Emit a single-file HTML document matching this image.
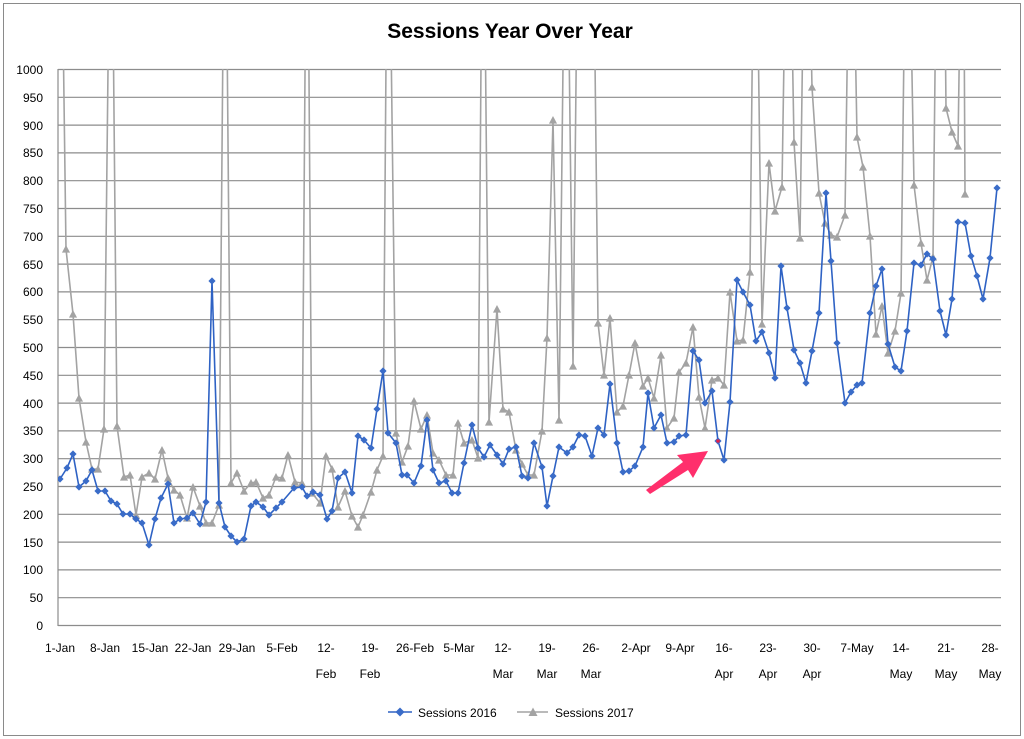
<!DOCTYPE html>
<html><head><meta charset="utf-8"><style>
html,body{margin:0;padding:0;background:#fff;}
svg{display:block;font-family:"Liberation Sans",sans-serif;}
</style></head><body>
<svg width="1024" height="739" viewBox="0 0 1024 739" xmlns="http://www.w3.org/2000/svg">
<defs>
<clipPath id="c"><rect x="58" y="69" width="944" height="557"/></clipPath>
<marker id="d" viewBox="-5 -5 10 10" markerWidth="8" markerHeight="8" markerUnits="userSpaceOnUse" refX="0" refY="0"><path d="M0,-4.5 L4.5,0 L0,4.5 L-4.5,0Z" fill="#3a6cc8"/></marker>
<marker id="t" viewBox="-5 -5 10 10" markerWidth="9" markerHeight="9" markerUnits="userSpaceOnUse" refX="0" refY="0"><path d="M0,-4.5 L4.5,4 L-4.5,4Z" fill="#a3a3a3"/></marker>
</defs>
<rect x="3.5" y="3.5" width="1017" height="732" fill="#fff" stroke="#8a8a8a"/>
<text x="510" y="38" font-size="21" font-weight="bold" text-anchor="middle" fill="#000">Sessions Year Over Year</text>
<g stroke="#8c8c8c" stroke-width="1.2">
<line x1="58" y1="69.5" x2="1001" y2="69.5"/><line x1="58" y1="97.3" x2="1001" y2="97.3"/><line x1="58" y1="125.1" x2="1001" y2="125.1"/><line x1="58" y1="152.9" x2="1001" y2="152.9"/><line x1="58" y1="180.7" x2="1001" y2="180.7"/><line x1="58" y1="208.5" x2="1001" y2="208.5"/><line x1="58" y1="236.3" x2="1001" y2="236.3"/><line x1="58" y1="264.1" x2="1001" y2="264.1"/><line x1="58" y1="291.9" x2="1001" y2="291.9"/><line x1="58" y1="319.7" x2="1001" y2="319.7"/><line x1="58" y1="347.5" x2="1001" y2="347.5"/><line x1="58" y1="375.3" x2="1001" y2="375.3"/><line x1="58" y1="403.1" x2="1001" y2="403.1"/><line x1="58" y1="430.9" x2="1001" y2="430.9"/><line x1="58" y1="458.7" x2="1001" y2="458.7"/><line x1="58" y1="486.5" x2="1001" y2="486.5"/><line x1="58" y1="514.3" x2="1001" y2="514.3"/><line x1="58" y1="542.1" x2="1001" y2="542.1"/><line x1="58" y1="569.9" x2="1001" y2="569.9"/><line x1="58" y1="597.7" x2="1001" y2="597.7"/><line x1="58" y1="625.5" x2="1001" y2="625.5"/>
<line x1="58" y1="69" x2="58" y2="626"/>
</g>
<g font-size="12" text-anchor="end" fill="#000">
<text x="43" y="74">1000</text><text x="43" y="102">950</text><text x="43" y="130">900</text><text x="43" y="157">850</text><text x="43" y="185">800</text><text x="43" y="213">750</text><text x="43" y="241">700</text><text x="43" y="269">650</text><text x="43" y="296">600</text><text x="43" y="324">550</text><text x="43" y="352">500</text><text x="43" y="380">450</text><text x="43" y="408">400</text><text x="43" y="435">350</text><text x="43" y="463">300</text><text x="43" y="491">250</text><text x="43" y="519">200</text><text x="43" y="547">150</text><text x="43" y="574">100</text><text x="43" y="602">50</text><text x="43" y="630">0</text>
</g>
<g font-size="12" text-anchor="middle" fill="#000">
<text x="60" y="652">1-Jan</text><text x="105" y="652">8-Jan</text><text x="150" y="652">15-Jan</text><text x="193" y="652">22-Jan</text><text x="237" y="652">29-Jan</text><text x="282" y="652">5-Feb</text>
<text x="326" y="652">12-</text><text x="326" y="678">Feb</text><text x="370" y="652">19-</text><text x="370" y="678">Feb</text>
<text x="415" y="652">26-Feb</text><text x="459" y="652">5-Mar</text>
<text x="503" y="652">12-</text><text x="503" y="678">Mar</text><text x="547" y="652">19-</text><text x="547" y="678">Mar</text><text x="591" y="652">26-</text><text x="591" y="678">Mar</text>
<text x="636" y="652">2-Apr</text><text x="680" y="652">9-Apr</text>
<text x="724" y="652">16-</text><text x="724" y="678">Apr</text><text x="768" y="652">23-</text><text x="768" y="678">Apr</text><text x="812" y="652">30-</text><text x="812" y="678">Apr</text>
<text x="857" y="652">7-May</text>
<text x="901" y="652">14-</text><text x="901" y="678">May</text><text x="946" y="652">21-</text><text x="946" y="678">May</text><text x="990" y="652">28-</text><text x="990" y="678">May</text>
</g>
<g clip-path="url(#c)">
<polyline fill="none" stroke="#a3a3a3" stroke-width="1.6" marker-mid="url(#t)" marker-end="url(#t)" points="60,-200 66,249 73,314 79,398 86,442 92,469 98,469 104,429 111,-200 117,426 124,477 130,475 136,515 142,477 149,473 155,479 162,450 168,478 174,490 180,495 187,518 193,487 200,506 206,523 212,523 219,505 225,-200 231,483 237,473 244,491 251,483 256,482 263,498 269,495 276,477 282,478 288,455 295,482 302,483 307,-200 312,493 320,503 326,456 332,469 338,507 345,491 352,516 358,527 363,515 371,492 377,470 383,456 388,-200 396,433 402,462 408,446 414,401 421,429 427,415 433,453 439,460 446,475 453,475 458,423 464,443 472,440 478,458 483,-200 489,422 497,309 503,409 509,412 516,450 522,464 528,475 534,475 542,431 547,338 553,120 559,420 566,-200 573,366 579,-200 585,-200 592,-200 598,323 604,375 610,318 617,412 623,406 629,375 635,343 643,386 648,378 654,398 661,355 667,428 674,418 679,372 686,363 693,327 699,397 705,428 712,380 718,378 724,385 730,292 737,341 743,340 750,272 755,-200 762,324 769,163 775,211 782,187 788,-200 794,142 800,238 806,-200 812,87 819,193 825,223 831,235 837,237 845,215 851,-200 857,137 863,167 870,236 876,334 882,306 888,353 895,331 901,293 907,-200 914,185 921,243 927,280 933,257 938,-200 943,-200 946,108 952,132 958,146 963,-200 965,194"/>
<polyline fill="none" stroke="#2e62c4" stroke-width="1.6" marker-start="url(#d)" marker-mid="url(#d)" marker-end="url(#d)" points="60,479 67,468 73,454 79,487 86,481 92,470 98,491 105,491 111,501 117,504 123,514 130,514 136,519 142,523 149,545 155,519 161,498 168,484 174,523 180,519 187,518 193,513 200,524 206,502 212,281 219,503 225,527 231,536 237,542 244,539 251,506 256,502 263,507 269,515 276,508 282,502 294,488 302,487 307,496 313,492 320,495 327,519 332,511 338,478 345,472 352,493 358,436 364,440 371,448 377,409 383,371 388,433 396,443 402,475 407,475 414,483 421,466 427,420 433,470 439,483 446,481 452,493 458,493 464,463 472,425 478,448 484,457 490,445 497,455 503,464 509,449 516,447 522,476 528,478 534,443 542,467 547,506 553,476 559,447 567,453 573,447 579,435 585,436 592,456 598,428 604,435 610,384 617,443 623,472 629,471 635,466 643,447 648,393 654,428 661,415 667,443 674,442 679,436 686,435 693,351 699,360 705,403 712,391 718,441 724,460 730,402 737,280 743,292 750,305 756,341 762,332 769,353 775,378 781,266 787,308 794,350 800,363 806,383 812,351 819,313 826,193 831,261 837,343 845,403 851,392 857,385 862,383 870,313 876,286 882,269 888,344 895,367 901,371 907,331 914,263 921,265 927,254 933,259 940,311 946,335 952,299 958,222 965,223 971,256 977,276 983,299 990,258 997,188"/>
</g>
<circle cx="718" cy="441" r="1.8" fill="#e0204a"/>
<polygon points="646,490 683,462 677,455 708,451 693,478 688,470 650,494" fill="#ff2f6c"/>
<g>
<line x1="388" y1="712" x2="412" y2="712" stroke="#2e62c4" stroke-width="1.6"/>
<path d="M400,707.5 L404.5,712 L400,716.5 L395.5,712Z" fill="#3a6cc8"/>
<text x="418" y="717" font-size="12" fill="#000">Sessions 2016</text>
<line x1="517" y1="712" x2="548" y2="712" stroke="#a3a3a3" stroke-width="1.6"/>
<path d="M533,707.5 L537.5,716 L528.5,716Z" fill="#a3a3a3"/>
<text x="555" y="717" font-size="12" fill="#000">Sessions 2017</text>
</g>
</svg>
</body></html>
